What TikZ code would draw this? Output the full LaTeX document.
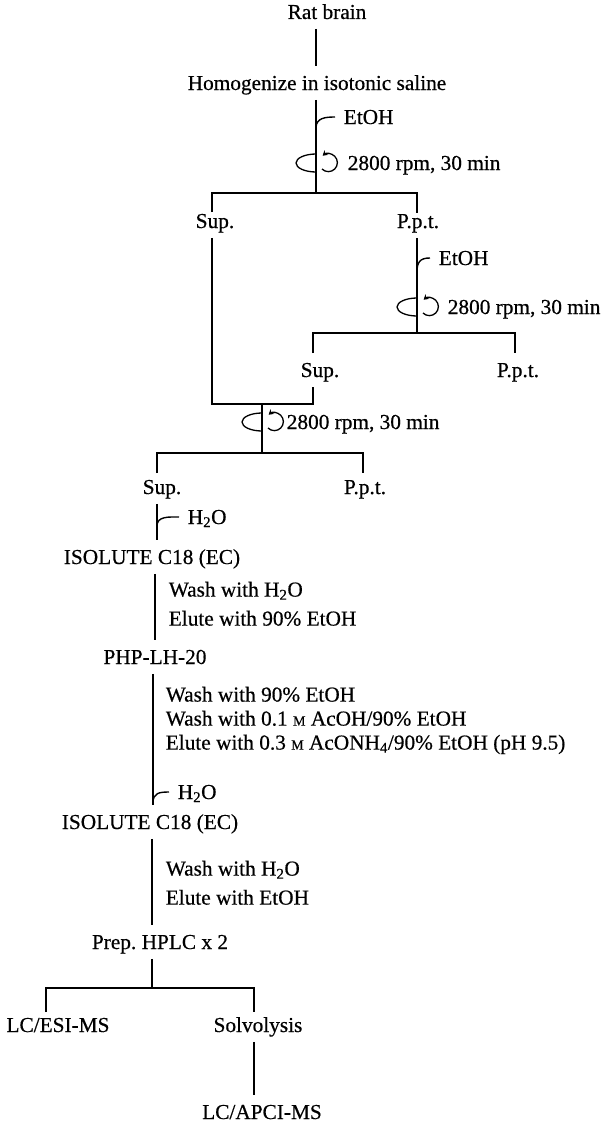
\documentclass[tikz,border=0pt]{standalone}
\usepackage{fontspec}
\setmainfont{Liberation Serif}[FakeBold=0.5]
\usetikzlibrary{arrows.meta,calc}
\frenchspacing
\newcommand{\molar}{{\fontsize{14}{14}\selectfont M}}
\newcommand{\rotor}[1]{%
\draw[spinline] ($(#1)+(0,9)$) arc[start angle=90,end angle=270,x radius=20,y radius=9];
\draw[spinline,-{Stealth[length=5pt,width=6pt]}] ($(#1)+(6,-6)$) arc[start angle=-135,end angle=130,radius=9];}
\begin{document}
\begin{tikzpicture}[x=1pt,y=1pt,line width=1.6pt,
lab/.style={inner xsep=0pt,inner ysep=9pt,text height=14pt,text depth=0pt,font=\fontsize{21.3}{24}\selectfont},
note/.style={inner sep=0pt,align=left,anchor=north west,font=\fontsize{21.3}{24}\selectfont},
hook/.style={line width=1.4pt},
spinline/.style={line width=1.3pt}]
\useasboundingbox (0,0) rectangle (603,-1124);
\node[lab] (rat) at (327,-12) {Rat brain};
\node[lab] (homog) at (317,-83) {Homogenize in isotonic saline};
\node[lab,anchor=west] (etoh1) at (343,-117) {EtOH};
\node[lab,anchor=west] (rpm1) at (347,-163) {2800 rpm, 30 min};
\node[lab] (sup1) at (215,-221) {Sup.};
\node[lab] (ppt1) at (418,-221) {P.p.t.};
\node[lab,anchor=west] (etoh2) at (438,-258) {EtOH};
\node[lab,anchor=west] (rpm2) at (447,-307) {2800 rpm, 30 min};
\node[lab] (sup2) at (320,-370) {Sup.};
\node[lab] (ppt2) at (518,-370) {P.p.t.};
\node[lab,anchor=west] (rpm3) at (286,-422) {2800 rpm, 30 min};
\node[lab] (sup3) at (162,-487) {Sup.};
\node[lab] (ppt3) at (365,-487) {P.p.t.};
\node[lab,anchor=west] (wat1) at (187,-517) {H\textsubscript{2}O};
\node[lab] (iso1) at (152,-557) {ISOLUTE C18 (EC)};
\node[note] (wash1) at (168,-581) {Wash with H\textsubscript{2}O\\[5pt]Elute with 90\% EtOH};
\node[lab] (php) at (155,-657) {PHP-LH-20};
\node[note] (wash2) at (165,-686) {Wash with 90\% EtOH\\Wash with 0.1 \molar{} AcOH/90\% EtOH\\Elute with 0.3 \molar{} AcONH\textsubscript{4}/90\% EtOH (pH 9.5)};
\node[lab,anchor=west] (wat2) at (177,-792) {H\textsubscript{2}O};
\node[lab] (iso2) at (150,-822) {ISOLUTE C18 (EC)};
\node[note] (wash3) at (165,-860) {Wash with H\textsubscript{2}O\\[5pt]Elute with EtOH};
\node[lab] (hplc) at (160,-942) {Prep. HPLC x 2};
\node[lab] (esi) at (58,-1025) {LC/ESI-MS};
\node[lab] (solv) at (258,-1025) {Solvolysis};
\node[lab] (apci) at (262,-1112) {LC/APCI-MS};
\coordinate (s1) at (316,-193);\coordinate (s2) at (417,-333);
\coordinate (m1) at (262,-404);\coordinate (s3) at (262,-453);
\coordinate (s4) at (152,-988);
\coordinate (a1) at (212,-212);\coordinate (a2) at (417,-213);
\coordinate (a3) at (313,-353);\coordinate (a4) at (515,-353);
\coordinate (a5) at (157,-473);\coordinate (a6) at (363,-473);
\coordinate (a7) at (46,-1012);\coordinate (a8) at (254,-1012);
\coordinate (k1) at (316,-128);\coordinate (k2) at (417,-272);
\coordinate (k3) at (157,-526);\coordinate (k4) at (153,-803);
\coordinate (r1) at (316,-163);\coordinate (r2) at (417,-307);
\coordinate (r3) at (262,-422);
\draw (rat.south -| s1) -- (homog.north -| s1);
\draw (homog.south -| s1) -- (s1);
\draw (a1) |- (s1) -| (a2);
\draw (ppt1.south -| s2) -- (s2);
\draw (a3) |- (s2) -| (a4);
\draw (sup1.south -| a1) |- (m1) -| (sup2.south -| a3);
\draw (m1) -- (s3);
\draw (a5) |- (s3) -| (a6);
\draw (sup3.south -| a5) -- (iso1.north -| a5);
\draw (iso1.south -| php) -- (php.north);
\draw (php.south -| k4) -- (iso2.north -| k4);
\draw (iso2.south -| s4) -- (hplc.north -| s4);
\draw (hplc.south -| s4) -- (s4);
\draw (a7) |- (s4) -| (a8);
\draw (solv.south -| a8) -- (apci.north -| a8);
\draw[hook] (k1) .. controls +(0,10) and +(-10,0) .. ([xshift=-8pt]etoh1.west);
\draw[hook] (k2) .. controls +(0,10) and +(-10,0) .. ([xshift=-8pt]etoh2.west);
\draw[hook] (k3) .. controls +(0,10) and +(-10,0) .. ([xshift=-8pt]wat1.west);
\draw[hook] (k4) .. controls +(0,10) and +(-10,0) .. ([xshift=-8pt]wat2.west);
\rotor{r1}\rotor{r2}\rotor{r3}
\end{tikzpicture}
\end{document}
